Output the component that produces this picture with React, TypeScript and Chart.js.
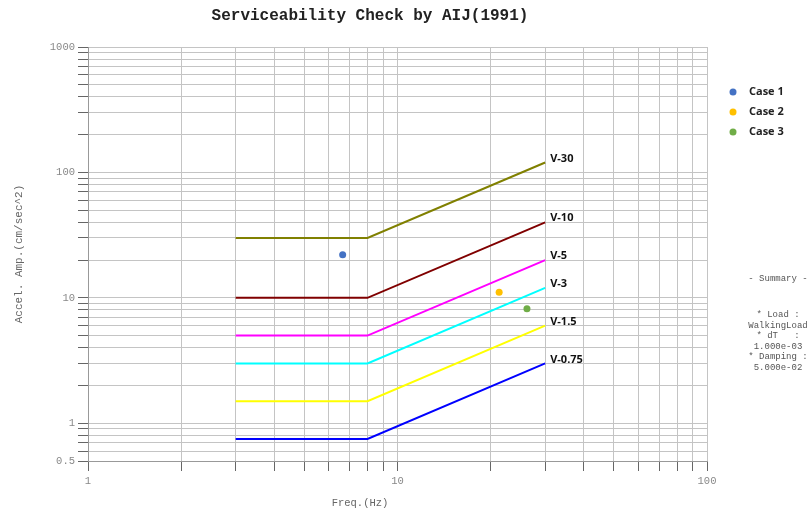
import React, { useEffect, useRef } from "react";
import { Chart, registerables } from "chart.js";

Chart.register(...registerables);

// ---------- data ----------
const chartTitle = "Serviceability Check by AIJ(1991)";
const xTitle = "Freq.(Hz)";
const yTitle = "Accel. Amp.(cm/sec^2)";

const lineFreqs = [3, 8, 30];
const lineLabels = ["V-30", "V-10", "V-5", "V-3", "V-1.5", "V-0.75"];
const lineColors = ["#808000", "#800000", "#FF00FF", "#00FFFF", "#FFFF00", "#0000FF"];
const v30 = [30, 30, 120];
const v10 = [10, 10, 40];
const v5 = [5, 5, 20];
const v3 = [3, 3, 12];
const v15 = [1.5, 1.5, 6];
const v075 = [0.75, 0.75, 3];
const lineValues = [v30, v10, v5, v3, v15, v075];

const caseLabels = ["Case 1", "Case 2", "Case 3"];
const caseFreqs = [6.65, 21.3, 26.2];
const caseAccels = [22.1, 11.1, 8.2];
const caseColors = ["#4472C4", "#FFC000", "#70AD47"];

const xTickValues = [1, 2, 3, 4, 5, 6, 7, 8, 9, 10, 20, 30, 40, 50, 60, 70, 80, 90, 100];
const xTickLabels = [1, 10, 100];
const yTickValues = [
  0.5, 0.6, 0.7, 0.8, 0.9, 1, 2, 3, 4, 5, 6, 7, 8, 9, 10, 20, 30, 40, 50, 60, 70, 80, 90,
  100, 200, 300, 400, 500, 600, 700, 800, 900, 1000,
];
const yTickLabels = [0.5, 1, 10, 100, 1000];

const summaryLines = ["- Summary -", "* Load :", "WalkingLoad", "* dT   :", "1.000e-03", "* Damping :", "5.000e-02"];

// ---------- helpers ----------
const MONO = "'Liberation Mono', 'Courier New', monospace";
const SANS = "'Open Sans', 'Noto Sans', sans-serif";
const isLabel = (v: number, list: number[]) => list.some((l) => Math.abs(l - v) < 1e-9);

const overlayPlugin = {
  id: "overlay",
  afterDraw(chart: any) {
    const ctx = chart.ctx as CanvasRenderingContext2D;
    ctx.save();
    // title
    ctx.fillStyle = "#222";
    ctx.font = `bold 16px ${MONO}`;
    ctx.textAlign = "center";
    ctx.textBaseline = "middle";
    ctx.fillText(chartTitle, 370, 16);

    // axis titles
    ctx.fillStyle = "#666";
    ctx.font = `10.5px ${MONO}`;
    ctx.fillText(xTitle, 360, 503);
    ctx.save();
    ctx.translate(19, 254);
    ctx.rotate(-Math.PI / 2);
    ctx.font = `11px ${MONO}`;
    ctx.fillText(yTitle, 0, 0);
    ctx.restore();

    // line end labels
    ctx.font = `bold 11px ${SANS}`;
    ctx.fillStyle = "#111";
    ctx.textAlign = "left";
    lineLabels.forEach((lbl, i) => {
      const meta = chart.getDatasetMeta(i);
      const pt = meta.data[meta.data.length - 1];
      if (pt) ctx.fillText(lbl, pt.x + 5, pt.y - 4);
    });

    // legend
    caseLabels.forEach((lbl, i) => {
      const y = 92 + i * 20;
      ctx.fillStyle = caseColors[i];
      ctx.beginPath();
      ctx.arc(733, y, 3.5, 0, Math.PI * 2);
      ctx.fill();
      ctx.fillStyle = "#222";
      ctx.fillText(lbl, 749, y);
    });

    // summary
    ctx.font = `9px ${MONO}`;
    ctx.fillStyle = "#555";
    ctx.textAlign = "center";
    const ys = [279, 315, 325.5, 336, 346.5, 357, 367.5];
    summaryLines.forEach((s, i) => ctx.fillText(s, 778, ys[i]));
    ctx.restore();
  },
};

export default function App() {
  const canvasRef = useRef<HTMLCanvasElement | null>(null);

  useEffect(() => {
    if (!canvasRef.current) return;
    const lineDatasets = lineLabels.map((lbl, i) => ({
      label: lbl,
      data: lineFreqs.map((f, j) => ({ x: f, y: lineValues[i][j] })),
      showLine: true,
      borderColor: lineColors[i],
      backgroundColor: lineColors[i],
      borderWidth: 2,
      pointRadius: 0,
      tension: 0,
      fill: false,
    }));
    const caseDatasets = caseLabels.map((lbl, i) => ({
      label: lbl,
      data: [{ x: caseFreqs[i], y: caseAccels[i] }],
      showLine: false,
      pointRadius: 3.5,
      pointBorderWidth: 0,
      backgroundColor: caseColors[i],
      borderColor: caseColors[i],
    }));

    const gridCommon = {
      color: "#c4c4c4",
      lineWidth: 1,
      tickColor: "#666",
      tickLength: 10,
      drawTicks: true,
    };

    const chart = new Chart(canvasRef.current, {
      type: "scatter",
      data: { datasets: [...lineDatasets, ...caseDatasets] as any },
      plugins: [overlayPlugin],
      options: {
        responsive: false,
        animation: false,
        layout: { padding: { left: 0, top: 47, right: 103, bottom: 0 } },
        plugins: {
          legend: { display: false },
          title: { display: false },
          tooltip: { enabled: false },
        },
        scales: {
          x: {
            type: "logarithmic",
            min: 1,
            max: 100,
            position: "bottom",
            grid: gridCommon,
            border: { display: true, color: "#999" },
            afterBuildTicks: (scale: any) => {
              scale.ticks = xTickValues.map((v) => ({ value: v }));
            },
            afterFit: (scale: any) => {
              scale.height = 52;
            },
            ticks: {
              autoSkip: false,
              maxRotation: 0,
              minRotation: 0,
              padding: 4,
              color: "#888",
              font: { family: MONO, size: 10.5 },
              callback: (v: any) => (isLabel(Number(v), xTickLabels) ? String(v) : ""),
            },
          },
          y: {
            type: "logarithmic",
            min: 0.5,
            max: 1000,
            grid: gridCommon,
            border: { display: true, color: "#999" },
            afterBuildTicks: (scale: any) => {
              scale.ticks = yTickValues.map((v) => ({ value: v }));
            },
            afterFit: (scale: any) => {
              scale.width = 88;
            },
            ticks: {
              autoSkip: false,
              padding: 3,
              color: "#888",
              font: { family: MONO, size: 10.5 },
              callback: (v: any) => (isLabel(Number(v), yTickLabels) ? String(v) : ""),
            },
          },
        },
      } as any,
    });
    return () => chart.destroy();
  }, []);

  return (
    <div style={{ position: "absolute", left: 0, top: 0, width: 810, height: 513, background: "#fff" }}>
      <canvas ref={canvasRef} width={810} height={513} style={{ display: "block" }} />
    </div>
  );
}
